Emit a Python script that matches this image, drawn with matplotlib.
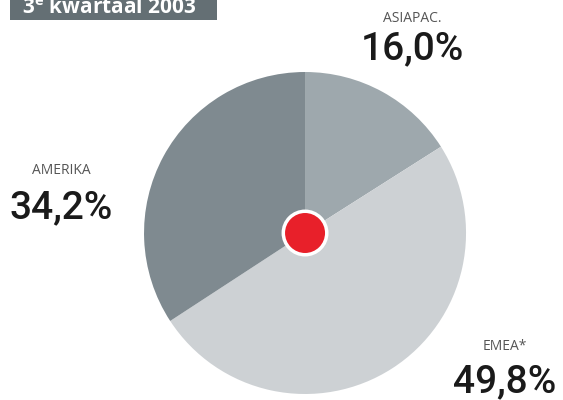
import matplotlib.pyplot as plt
from matplotlib.patches import Rectangle, Circle

regions = ['ASIAPAC.', 'EMEA*', 'AMERIKA']
shares = [16.0, 49.8, 34.2]
share_labels = ['16,0%', '49,8%', '34,2%']
colors = ['#9ea8ad', '#cdd1d4', '#7f8a90']

fig = plt.figure(figsize=(5.63, 4), dpi=100)
ax = fig.add_axes([0.2558, 0.015, 0.572, 0.805])
ax.pie(shares, colors=colors, startangle=90, counterclock=False,
       wedgeprops=dict(linewidth=0))
ax.set_xlim(-1, 1)
ax.set_ylim(-1, 1)
ax.set_aspect('equal')
ax.add_patch(Circle((0, 0), 0.135, facecolor='#e8202a', edgecolor='white',
                    linewidth=2.5, zorder=5))

# title box cut off at top
fig.patches.append(Rectangle((10 / 563, 1 - 20 / 400), 207 / 563, 20 / 400 + 0.01,
                             transform=fig.transFigure, facecolor='#646f74',
                             edgecolor='none'))
fig.text(22 / 563, 1 - 14 / 400, '3$^{\\mathregular{e}}$ kwartaal 2003', color='white',
         fontsize=15, fontweight='bold', va='baseline', ha='left',
         fontfamily='Open Sans')

# labels
pos = {'ASIAPAC.': (412, 18, 49), 'EMEA*': (505, 346, 382), 'AMERIKA': (61, 171, 208)}
for name, lab in zip(regions, share_labels):
    x, y1, y2 = pos[name]
    fig.text(x / 563, 1 - y1 / 400, name, fontsize=10, color='#555555',
             ha='center', va='center', fontfamily='Open Sans')
    fig.text(x / 563, 1 - y2 / 400, lab, fontsize=28, color='#1a1a1a',
             ha='center', va='center', fontweight='medium', fontfamily='Roboto')

fig.savefig('out.png', dpi=100)
